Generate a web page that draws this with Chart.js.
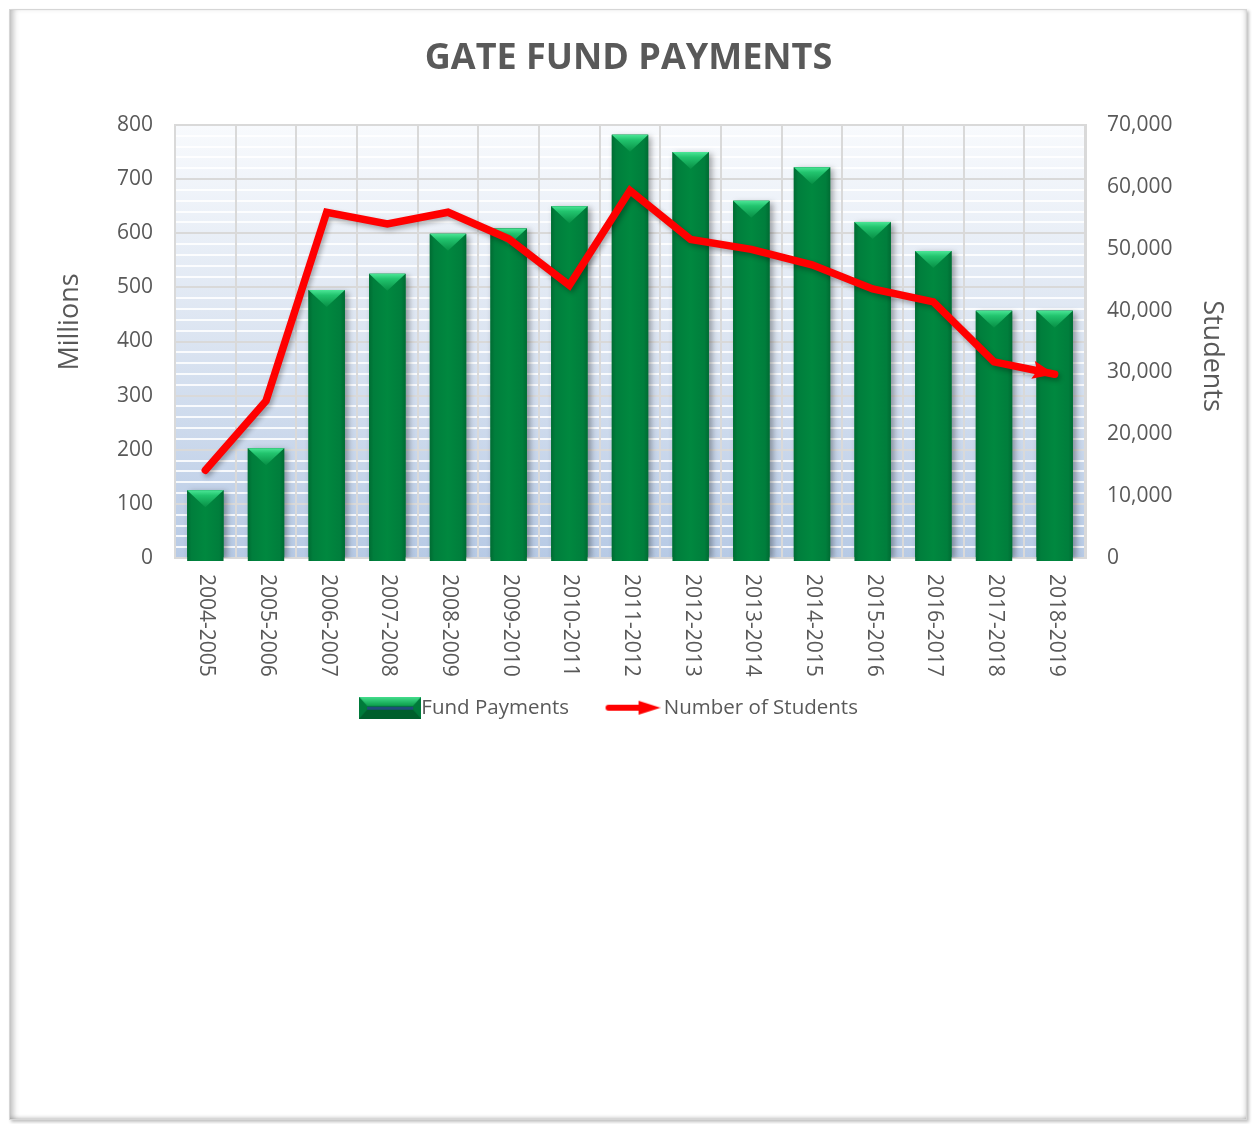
<!DOCTYPE html>
<html>
<head>
<meta charset="utf-8">
<script src="https://cdn.jsdelivr.net/npm/chart.js@4"></script>
<style>
  html, body { margin: 0; padding: 0; background: #fff; }
  #wrap { position: relative; width: 1253px; height: 1124px; }
  #frame { position: absolute; left: 9px; top: 9px; width: 1238px; height: 1111px;
    border: 1px solid #d6d6d6; box-sizing: border-box;
    box-shadow: inset 6px 0 6px -3px rgba(0,0,0,0.28), inset 0 -4px 4px -3px rgba(0,0,0,0.2), 2px 2px 3px rgba(0,0,0,0.25), inset -4px 0 4px -3px rgba(0,0,0,0.15); }
  canvas { position: absolute; left: 0; top: 0; }
</style>
</head>
<body>
<div id="wrap">
  <div id="frame"></div>
  <canvas id="c" width="1253" height="1124"></canvas>
</div>
<script>
const categories = ['2004-2005','2005-2006','2006-2007','2007-2008','2008-2009','2009-2010','2010-2011','2011-2012','2012-2013','2013-2014','2014-2015','2015-2016','2016-2017','2017-2018','2018-2019'];
const fundPayments = [125, 203, 495, 525, 599, 609, 650, 782, 750, 660, 722, 621, 567, 457, 457];
const numberOfStudents = [14200, 25400, 55900, 54000, 55900, 51600, 44100, 59400, 51500, 49900, 47400, 43500, 41400, 31700, 29700];
const leftTicks = [0, 100, 200, 300, 400, 500, 600, 700, 800];
const rightTicks = [0, 10000, 20000, 30000, 40000, 50000, 60000, 70000];

const FONT = '"Open Sans", "DejaVu Sans", sans-serif';
const TXT = '#595959';

// legend symbols
function makeBarIcon() {
  const c = document.createElement('canvas'); c.width = 62; c.height = 22;
  const g = c.getContext('2d');
  g.fillStyle = '#007a3a'; g.fillRect(0, 0, 62, 22);
  let gr = g.createLinearGradient(0, 0, 0, 8);
  gr.addColorStop(0, '#45e08e'); gr.addColorStop(1, '#12a552');
  g.fillStyle = gr;
  g.beginPath(); g.moveTo(0,0); g.lineTo(62,0); g.lineTo(54,9); g.lineTo(8,9); g.closePath(); g.fill();
  g.fillStyle = '#005f2c';
  g.beginPath(); g.moveTo(0,22); g.lineTo(62,22); g.lineTo(54,13); g.lineTo(8,13); g.closePath(); g.fill();
  g.fillStyle = '#1f4e79'; g.fillRect(8, 10, 46, 3);
  return c;
}
function makeArrowIcon() {
  const c = document.createElement('canvas'); c.width = 56; c.height = 20;
  const g = c.getContext('2d');
  g.strokeStyle = '#ff0000'; g.lineWidth = 6; g.lineCap = 'round';
  g.beginPath(); g.moveTo(4, 10); g.lineTo(38, 10); g.stroke();
  g.fillStyle = '#ff0000';
  g.beginPath(); g.moveTo(34, 3); g.lineTo(56, 10); g.lineTo(34, 17); g.closePath(); g.fill();
  return c;
}
const barIcon = makeBarIcon();
const arrowIcon = makeArrowIcon();

const decor = {
  id: 'decor',
  beforeDraw(chart) {
    const {ctx, chartArea: a} = chart;
    const y = chart.scales.y;
    ctx.save();
    const gr = ctx.createLinearGradient(0, a.top, 0, a.bottom);
    gr.addColorStop(0, '#f8fafd');
    gr.addColorStop(0.5, '#dbe4f1');
    gr.addColorStop(1, '#b7cae5');
    ctx.fillStyle = gr;
    ctx.fillRect(a.left, a.top, a.right - a.left, a.bottom - a.top);
    ctx.strokeStyle = 'rgba(255,255,255,0.85)';
    ctx.lineWidth = 2;
    for (let v = 20; v < 800; v += 20) {
      if (v % 100 === 0) continue;
      const py = Math.round(y.getPixelForValue(v));
      ctx.beginPath(); ctx.moveTo(a.left, py); ctx.lineTo(a.right, py); ctx.stroke();
    }
    ctx.restore();
  },
  beforeDatasetDraw(chart, args) {
    const ctx = chart.ctx;
    ctx.save();
    if (args.index === 0) {
      ctx.shadowColor = 'rgba(0,0,0,0.35)'; ctx.shadowBlur = 6; ctx.shadowOffsetX = 3; ctx.shadowOffsetY = 2;
    } else {
      ctx.shadowColor = 'rgba(0,0,0,0.3)'; ctx.shadowBlur = 5; ctx.shadowOffsetX = 2; ctx.shadowOffsetY = 3;
    }
  },
  afterDatasetDraw(chart, args) {
    const ctx = chart.ctx;
    ctx.restore();
    const meta = args.meta;
    if (args.index === 0) {
      meta.data.forEach(el => {
        const {x, y, base, width} = el.getProps(['x','y','base','width'], true);
        const l = x - width / 2, r = x + width / 2;
        ctx.save();
        const hg = ctx.createLinearGradient(l, 0, r, 0);
        hg.addColorStop(0, '#006c33'); hg.addColorStop(0.12, '#007e3c');
        hg.addColorStop(0.5, '#00883f'); hg.addColorStop(0.88, '#007e3c'); hg.addColorStop(1, '#006c33');
        ctx.fillStyle = hg;
        ctx.fillRect(l, y, width, base - y + 4);
        const vg = ctx.createLinearGradient(0, y, 0, y + 17);
        vg.addColorStop(0, '#4be696'); vg.addColorStop(0.3, '#22c46e'); vg.addColorStop(1, '#078f45');
        ctx.fillStyle = vg;
        ctx.beginPath(); ctx.moveTo(l, y); ctx.lineTo(r, y); ctx.lineTo(x, y + 17); ctx.closePath(); ctx.fill();
        ctx.restore();
      });
    } else {
      const pts = meta.data;
      const p1 = pts[pts.length - 1], p0 = pts[pts.length - 2];
      const ang = Math.atan2(p1.y - p0.y, p1.x - p0.x);
      ctx.save();
      ctx.translate(p1.x, p1.y); ctx.rotate(ang);
      ctx.fillStyle = '#ff0000';
      ctx.beginPath(); ctx.moveTo(0, 0); ctx.lineTo(-22, -9); ctx.lineTo(-18, 0); ctx.lineTo(-22, 9); ctx.closePath(); ctx.fill();
      ctx.restore();
    }
  },
  afterDraw(chart) {
    const {ctx, chartArea: a} = chart;
    const xs = chart.scales.x;
    ctx.save();
    ctx.fillStyle = TXT;
    ctx.font = '21px ' + FONT;
    ctx.textAlign = 'left'; ctx.textBaseline = 'middle';
    categories.forEach((c, i) => {
      ctx.save();
      ctx.translate(xs.getPixelForValue(i) + 1, a.bottom + 16);
      ctx.rotate(Math.PI / 2);
      ctx.fillText(c, 0, 0);
      ctx.restore();
    });
    ctx.font = '27px ' + FONT;
    ctx.textAlign = 'center';
    ctx.save(); ctx.translate(70, 322); ctx.rotate(-Math.PI / 2); ctx.fillText('Millions', 0, 0); ctx.restore();
    ctx.save(); ctx.translate(1212, 356); ctx.rotate(Math.PI / 2); ctx.fillText('Students', 0, 0); ctx.restore();
    ctx.restore();
  },
  afterLayout(chart) {
    if (chart.legend) { chart.legend.left -= 29; chart.legend.right -= 29; }
    if (chart.titleBlock) { chart.titleBlock.left -= 14; chart.titleBlock.right -= 14; }
  }
};

new Chart(document.getElementById('c'), {
  data: {
    labels: categories,
    datasets: [
      {
        type: 'bar', label: 'Fund Payments', data: fundPayments, yAxisID: 'y',
        backgroundColor: '#00803d', borderWidth: 0,
        categoryPercentage: 1.0, barPercentage: 0.6, order: 2
      },
      {
        type: 'line', label: 'Number of Students', data: numberOfStudents, yAxisID: 'y1',
        borderColor: '#ff0000', borderWidth: 7.5, pointRadius: 0, tension: 0,
        borderCapStyle: 'round', borderJoinStyle: 'miter', fill: false, order: 1
      }
    ]
  },
  options: {
    responsive: false,
    animation: false,
    devicePixelRatio: 1,
    layout: { padding: { left: 40, right: 8, top: 15, bottom: 396 } },
    font: { family: FONT },
    plugins: {
      tooltip: { enabled: false },
      title: {
        display: true, text: 'GATE FUND PAYMENTS', color: TXT,
        font: { family: FONT, size: 36, weight: 'bold' },
        padding: { top: 22, bottom: 44.8 }
      },
      legend: {
        position: 'bottom',
        labels: {
          color: TXT, font: { family: FONT, size: 20.5 },
          usePointStyle: true, pointStyleWidth: 42, padding: 42.5,
          generateLabels: () => [
            { text: 'Fund Payments', pointStyle: barIcon, fillStyle: 'transparent', strokeStyle: 'transparent', lineWidth: 0, fontColor: TXT, datasetIndex: 0, hidden: false },
            { text: 'Number of Students', pointStyle: arrowIcon, fillStyle: 'transparent', strokeStyle: 'transparent', lineWidth: 0, fontColor: TXT, datasetIndex: 1, hidden: false }
          ]
        }
      }
    },
    scales: {
      x: {
        type: 'category', offset: true,
        grid: { display: true, offset: true, color: '#d9d9d9', lineWidth: 2, drawTicks: false },
        border: { display: true, color: '#d9d9d9', width: 2 },
        ticks: { display: false },
        afterFit: s => { s.height = 97; }
      },
      y: {
        type: 'linear', position: 'left', min: 0, max: 800,
        afterBuildTicks: s => { s.ticks = leftTicks.map(v => ({ value: v })); },
        grid: { color: '#d9d9d9', lineWidth: 2, drawTicks: false },
        border: { display: true, color: '#d9d9d9', width: 2 },
        ticks: { color: TXT, font: { family: FONT, size: 21 }, padding: 22 },
        afterFit: s => { s.width = 135; }
      },
      y1: {
        type: 'linear', position: 'right', min: 0, max: 70000,
        afterBuildTicks: s => { s.ticks = rightTicks.map(v => ({ value: v })); },
        grid: { display: false, drawOnChartArea: false, drawTicks: false },
        border: { display: true, color: '#d9d9d9', width: 3 },
        ticks: { color: TXT, font: { family: FONT, size: 21 }, padding: 22,
          callback: v => v.toLocaleString('en-US') },
        afterFit: s => { s.width = 160; }
      }
    }
  },
  plugins: [decor]
});
</script>
</body>
</html>
